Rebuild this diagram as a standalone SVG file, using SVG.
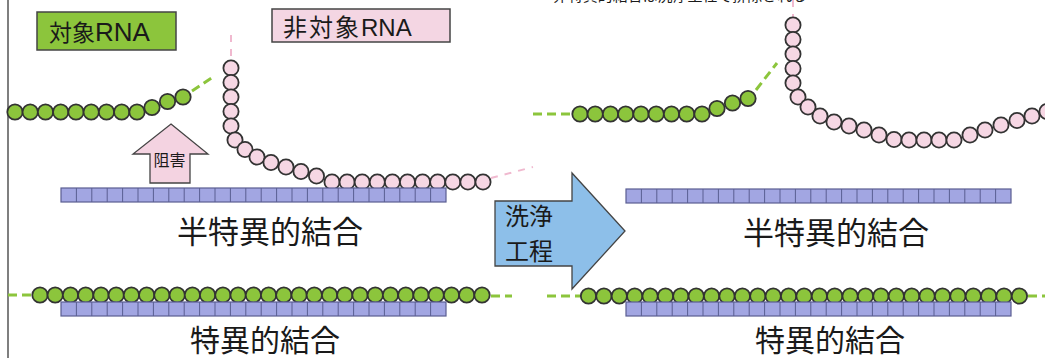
<svg xmlns="http://www.w3.org/2000/svg" xmlns:xlink="http://www.w3.org/1999/xlink" width="1045" height="358" viewBox="0 0 1045 358">
  <style>
    .jp { font-family: "Noto Sans CJK JP", "Noto Sans", sans-serif; fill: #1a1a1a; }
    .lat { font-family: "Liberation Sans", Arial, sans-serif; }
    .gb { fill: #8cc53c; stroke: #333; stroke-width: 1.8; }
    .pb { fill: #f6d7e4; stroke: #333; stroke-width: 1.8; }
    .gdash { fill: none; stroke: #8cc53c; stroke-width: 3; stroke-dasharray: 9 5; }
    .pdash { fill: none; stroke: #f0b9cf; stroke-width: 2; stroke-dasharray: 7 7; }
    .bar-box { fill: #a2a6e2; stroke: #5a5e92; stroke-width: 1.2; }
    .bar-div { stroke: #5a5e92; stroke-width: 1; }
  </style>
  <defs>
    <!-- probe strand: 25 cells, 15.4 px each -->
    <g id="bar">
      <rect class="bar-box" x="0" y="0" width="385" height="14"/>
      <path class="bar-div" d="M15.4,0V14M30.8,0V14M46.2,0V14M61.6,0V14M77,0V14M92.4,0V14M107.8,0V14M123.2,0V14M138.6,0V14M154,0V14M169.4,0V14M184.8,0V14M200.2,0V14M215.6,0V14M231,0V14M246.4,0V14M261.8,0V14M277.2,0V14M292.6,0V14M308,0V14M323.4,0V14M338.8,0V14M354.2,0V14M369.6,0V14"/>
    </g>
  </defs>

  <rect x="0" y="0" width="1045" height="358" fill="#ffffff"/>
  <!-- frame edge -->
  <line x1="8" y1="0" x2="8" y2="358" stroke="#555" stroke-width="1.5"/>

  <!-- caption cut at the top edge -->
  <text class="jp" x="553" y="1" font-size="15" textLength="254">非特異的結合は洗浄工程で排除される</text>

  <g id="label-target">
    <rect x="37" y="12" width="139" height="38" fill="#8cc53c" stroke="#444" stroke-width="1.5"/>
    <text class="jp" x="49" y="41" font-size="23">対象<tspan class="lat" font-size="26">RNA</tspan></text>
  </g>

  <g id="label-nontarget">
    <rect x="272" y="9" width="178" height="33" fill="#f4d6e3" stroke="#444" stroke-width="1.5"/>
    <text class="jp" x="283" y="36" font-size="24" letter-spacing="2">非対象<tspan class="lat" letter-spacing="0">RNA</tspan></text>
  </g>

  <g id="inhibit-arrow">
    <path d="M171,124 L208,154 L190,154 L190,183 L150,183 L150,154 L133,154 Z" fill="#f4d3e1" stroke="#444" stroke-width="1.3"/>
    <text class="jp" x="169.5" y="166" font-size="16" text-anchor="middle">阻害</text>
  </g>

  <g id="wash-arrow">
    <path d="M495,201 L572,201 L572,173 L625,231 L572,289 L572,266 L495,266 Z" fill="#8dbfe9" stroke="#444" stroke-width="1.3"/>
    <text class="jp" x="505" y="225" font-size="24">洗浄</text>
    <text class="jp" x="505" y="260" font-size="24">工程</text>
  </g>

  <g id="connectors">
    <path class="gdash" d="M192,91 L213,77"/>
    <path class="gdash" d="M756,90 L777,63"/>
    <path class="gdash" d="M533,114 L572,114"/>
    <path class="gdash" d="M8,295 L31,295"/>
    <path class="gdash" d="M491,296 L512,296"/>
    <path class="gdash" d="M547,296 L580,296"/>
    <path class="gdash" d="M1028,296 L1045,296"/>
    <path class="pdash" d="M231,35 L231,60"/>
    <path class="pdash" d="M793,0 L793,17"/>
    <path class="pdash" d="M491,178 L533,167"/>
  </g>

  <!-- left, before washing: partially bound target -->
  <g id="target-left-top">
    <circle class="gb" cx="15" cy="112" r="7.7"/>
    <circle class="gb" cx="30.2" cy="112" r="7.7"/>
    <circle class="gb" cx="45.5" cy="112" r="7.7"/>
    <circle class="gb" cx="60.7" cy="112" r="7.7"/>
    <circle class="gb" cx="76" cy="112" r="7.7"/>
    <circle class="gb" cx="91.2" cy="112" r="7.7"/>
    <circle class="gb" cx="106.5" cy="112" r="7.7"/>
    <circle class="gb" cx="121.7" cy="112" r="7.7"/>
    <circle class="gb" cx="137" cy="112" r="7.7"/>
    <circle class="gb" cx="152" cy="107.5" r="7.7"/>
    <circle class="gb" cx="167.5" cy="101.5" r="7.7"/>
    <circle class="gb" cx="183" cy="97" r="7.7"/>
  </g>

  <g id="nontarget-left">
    <circle class="pb" cx="231" cy="68" r="7.6"/>
    <circle class="pb" cx="231" cy="82.5" r="7.6"/>
    <circle class="pb" cx="231" cy="97" r="7.6"/>
    <circle class="pb" cx="231" cy="111.5" r="7.6"/>
    <circle class="pb" cx="231" cy="126" r="7.6"/>
    <circle class="pb" cx="235" cy="140" r="7.6"/>
    <circle class="pb" cx="245" cy="149.5" r="7.6"/>
    <circle class="pb" cx="257" cy="157" r="7.6"/>
    <circle class="pb" cx="271" cy="162.5" r="7.6"/>
    <circle class="pb" cx="286" cy="167" r="7.6"/>
    <circle class="pb" cx="301" cy="171.5" r="7.6"/>
    <circle class="pb" cx="316.5" cy="176" r="7.6"/>
    <circle class="pb" cx="332" cy="182" r="7.6"/>
    <circle class="pb" cx="347.1" cy="182" r="7.6"/>
    <circle class="pb" cx="362.2" cy="182" r="7.6"/>
    <circle class="pb" cx="377.3" cy="182" r="7.6"/>
    <circle class="pb" cx="392.4" cy="182" r="7.6"/>
    <circle class="pb" cx="407.5" cy="182" r="7.6"/>
    <circle class="pb" cx="422.6" cy="182" r="7.6"/>
    <circle class="pb" cx="437.7" cy="182" r="7.6"/>
    <circle class="pb" cx="452.8" cy="182" r="7.6"/>
    <circle class="pb" cx="467.9" cy="182" r="7.6"/>
    <circle class="pb" cx="483" cy="182" r="7.6"/>
  </g>

  <g id="probe-left-top"><use xlink:href="#bar" x="61" y="188"/></g>
  <text class="jp" x="270" y="243" font-size="31" text-anchor="middle">半特異的結合</text>

  <g id="target-left-bottom">
    <circle class="gb" cx="40" cy="295" r="7.7"/>
    <circle class="gb" cx="55.2" cy="295" r="7.7"/>
    <circle class="gb" cx="70.5" cy="295" r="7.7"/>
    <circle class="gb" cx="85.7" cy="295" r="7.7"/>
    <circle class="gb" cx="101" cy="295" r="7.7"/>
    <circle class="gb" cx="116.2" cy="295" r="7.7"/>
    <circle class="gb" cx="131.4" cy="295" r="7.7"/>
    <circle class="gb" cx="146.7" cy="295" r="7.7"/>
    <circle class="gb" cx="161.9" cy="295" r="7.7"/>
    <circle class="gb" cx="177.2" cy="295" r="7.7"/>
    <circle class="gb" cx="192.4" cy="295" r="7.7"/>
    <circle class="gb" cx="207.6" cy="295" r="7.7"/>
    <circle class="gb" cx="222.9" cy="295" r="7.7"/>
    <circle class="gb" cx="238.1" cy="295" r="7.7"/>
    <circle class="gb" cx="253.4" cy="295" r="7.7"/>
    <circle class="gb" cx="268.6" cy="295" r="7.7"/>
    <circle class="gb" cx="283.8" cy="295" r="7.7"/>
    <circle class="gb" cx="299.1" cy="295" r="7.7"/>
    <circle class="gb" cx="314.3" cy="295" r="7.7"/>
    <circle class="gb" cx="329.6" cy="295" r="7.7"/>
    <circle class="gb" cx="344.8" cy="295" r="7.7"/>
    <circle class="gb" cx="360" cy="295" r="7.7"/>
    <circle class="gb" cx="375.3" cy="295" r="7.7"/>
    <circle class="gb" cx="390.5" cy="295" r="7.7"/>
    <circle class="gb" cx="405.8" cy="295" r="7.7"/>
    <circle class="gb" cx="421" cy="295" r="7.7"/>
    <circle class="gb" cx="436.2" cy="295" r="7.7"/>
    <circle class="gb" cx="451.5" cy="295" r="7.7"/>
    <circle class="gb" cx="466.7" cy="295" r="7.7"/>
    <circle class="gb" cx="482" cy="295" r="7.7"/>
  </g>
  <g id="probe-left-bottom"><use xlink:href="#bar" x="61" y="302"/></g>
  <text class="jp" x="265" y="351" font-size="30" text-anchor="middle">特異的結合</text>

  <!-- right, after washing -->
  <g id="target-right-top">
    <circle class="gb" cx="580" cy="114" r="7.7"/>
    <circle class="gb" cx="595.2" cy="114" r="7.7"/>
    <circle class="gb" cx="610.5" cy="114" r="7.7"/>
    <circle class="gb" cx="625.7" cy="114" r="7.7"/>
    <circle class="gb" cx="641" cy="114" r="7.7"/>
    <circle class="gb" cx="656.2" cy="114" r="7.7"/>
    <circle class="gb" cx="671.5" cy="114" r="7.7"/>
    <circle class="gb" cx="686.7" cy="114" r="7.7"/>
    <circle class="gb" cx="702" cy="114" r="7.7"/>
    <circle class="gb" cx="717" cy="108.5" r="7.7"/>
    <circle class="gb" cx="732.5" cy="103" r="7.7"/>
    <circle class="gb" cx="748" cy="98.5" r="7.7"/>
  </g>

  <g id="nontarget-right">
    <circle class="pb" cx="793" cy="25" r="7.6"/>
    <circle class="pb" cx="793" cy="39.5" r="7.6"/>
    <circle class="pb" cx="793" cy="54" r="7.6"/>
    <circle class="pb" cx="793" cy="68.5" r="7.6"/>
    <circle class="pb" cx="793" cy="83" r="7.6"/>
    <circle class="pb" cx="798" cy="97" r="7.6"/>
    <circle class="pb" cx="808" cy="107" r="7.6"/>
    <circle class="pb" cx="820" cy="116" r="7.6"/>
    <circle class="pb" cx="834" cy="122" r="7.6"/>
    <circle class="pb" cx="849" cy="126" r="7.6"/>
    <circle class="pb" cx="864" cy="130" r="7.6"/>
    <circle class="pb" cx="879" cy="135" r="7.6"/>
    <circle class="pb" cx="894" cy="139.5" r="7.6"/>
    <circle class="pb" cx="909" cy="140" r="7.6"/>
    <circle class="pb" cx="924" cy="140" r="7.6"/>
    <circle class="pb" cx="939" cy="140" r="7.6"/>
    <circle class="pb" cx="954" cy="140" r="7.6"/>
    <circle class="pb" cx="970" cy="135" r="7.6"/>
    <circle class="pb" cx="985" cy="130" r="7.6"/>
    <circle class="pb" cx="1001" cy="125" r="7.6"/>
    <circle class="pb" cx="1017" cy="120.5" r="7.6"/>
    <circle class="pb" cx="1032" cy="116" r="7.6"/>
    <circle class="pb" cx="1047" cy="111.5" r="7.6"/>
  </g>

  <g id="probe-right-top"><use xlink:href="#bar" x="626" y="189"/></g>
  <text class="jp" x="836" y="244" font-size="31" text-anchor="middle">半特異的結合</text>

  <g id="target-right-bottom">
    <circle class="gb" cx="588.5" cy="296" r="7.7"/>
    <circle class="gb" cx="603.9" cy="296" r="7.7"/>
    <circle class="gb" cx="619.3" cy="296" r="7.7"/>
    <circle class="gb" cx="634.7" cy="296" r="7.7"/>
    <circle class="gb" cx="650.1" cy="296" r="7.7"/>
    <circle class="gb" cx="665.5" cy="296" r="7.7"/>
    <circle class="gb" cx="680.8" cy="296" r="7.7"/>
    <circle class="gb" cx="696.2" cy="296" r="7.7"/>
    <circle class="gb" cx="711.6" cy="296" r="7.7"/>
    <circle class="gb" cx="727" cy="296" r="7.7"/>
    <circle class="gb" cx="742.4" cy="296" r="7.7"/>
    <circle class="gb" cx="757.8" cy="296" r="7.7"/>
    <circle class="gb" cx="773.2" cy="296" r="7.7"/>
    <circle class="gb" cx="788.6" cy="296" r="7.7"/>
    <circle class="gb" cx="804" cy="296" r="7.7"/>
    <circle class="gb" cx="819.4" cy="296" r="7.7"/>
    <circle class="gb" cx="834.7" cy="296" r="7.7"/>
    <circle class="gb" cx="850.1" cy="296" r="7.7"/>
    <circle class="gb" cx="865.5" cy="296" r="7.7"/>
    <circle class="gb" cx="880.9" cy="296" r="7.7"/>
    <circle class="gb" cx="896.3" cy="296" r="7.7"/>
    <circle class="gb" cx="911.7" cy="296" r="7.7"/>
    <circle class="gb" cx="927.1" cy="296" r="7.7"/>
    <circle class="gb" cx="942.5" cy="296" r="7.7"/>
    <circle class="gb" cx="957.9" cy="296" r="7.7"/>
    <circle class="gb" cx="973.3" cy="296" r="7.7"/>
    <circle class="gb" cx="988.7" cy="296" r="7.7"/>
    <circle class="gb" cx="1004" cy="296" r="7.7"/>
    <circle class="gb" cx="1019.4" cy="296" r="7.7"/>
  </g>
  <g id="probe-right-bottom"><use xlink:href="#bar" x="626" y="302"/></g>
  <text class="jp" x="830" y="351" font-size="30" text-anchor="middle">特異的結合</text>
</svg>
